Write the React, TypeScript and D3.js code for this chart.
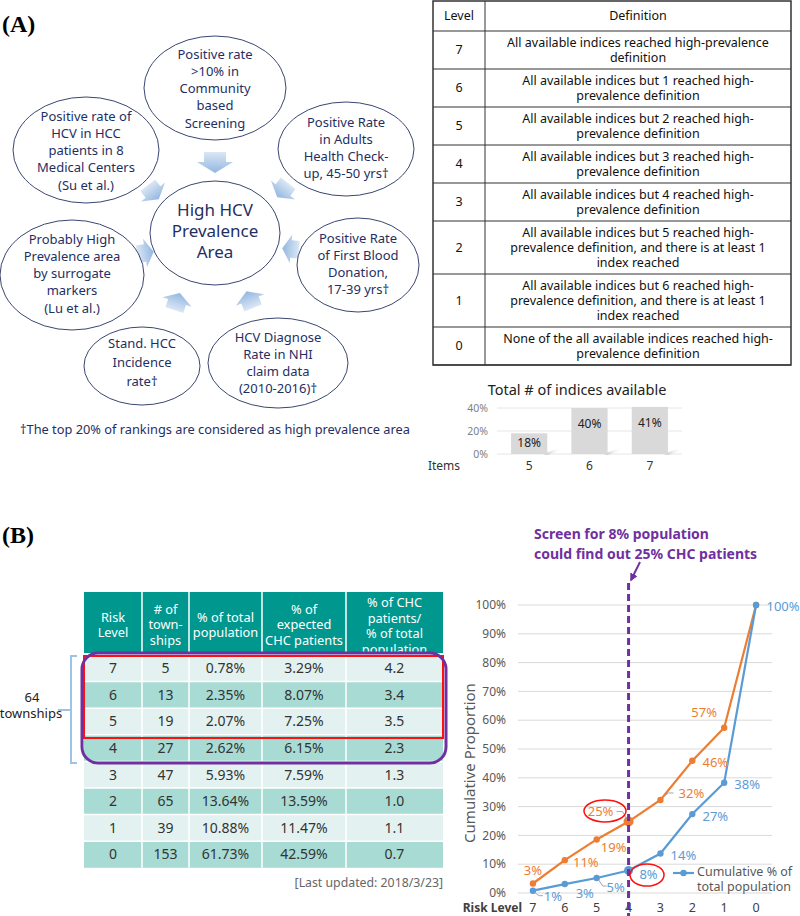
import React from 'react';
import * as d3 from 'd3';

// ---------- Panel A data ----------
const centerLines = ["High HCV", "Prevalence", "Area"];
const indexBubbles = [
  ["Positive rate", ">10% in", "Community", "based", "Screening"],
  ["Positive Rate", "in Adults", "Health Check-", "up, 45-50 yrs†"],
  ["Positive Rate", "of First Blood", "Donation,", "17-39 yrs†"],
  ["HCV Diagnose", "Rate in NHI", "claim data", "(2010-2016)†"],
  ["Stand. HCC", "Incidence", "rate†"],
  ["Probably High", "Prevalence area", "by surrogate", "markers", "(Lu et al.)"],
  ["Positive rate of", "HCV in HCC", "patients in 8", "Medical Centers", "(Su et al.)"],
];
const footnoteA = "†The top 20% of rankings are considered as high prevalence area";

const levelsA = ["7", "6", "5", "4", "3", "2", "1", "0"];
const definitionsA = [
  ["All available indices reached high-prevalence", "definition"],
  ["All available indices but 1 reached high-", "prevalence definition"],
  ["All available indices but 2 reached high-", "prevalence definition"],
  ["All available indices but 3 reached high-", "prevalence definition"],
  ["All available indices but 4 reached high-", "prevalence definition"],
  ["All available indices but 5 reached high-", "prevalence definition, and there is at least 1", "index reached"],
  ["All available indices but 6 reached high-", "prevalence definition, and there is at least 1", "index reached"],
  ["None of the all available indices reached high-", "prevalence definition"],
];

const indexItems = ["5", "6", "7"];
const indexShares = [18, 40, 41];
const indexTicks = [0, 20, 40];

// ---------- Panel B data ----------
const riskLevels = ["7", "6", "5", "4", "3", "2", "1", "0"];
const townships = ["5", "13", "19", "27", "47", "65", "39", "153"];
const popPct = ["0.78%", "2.35%", "2.07%", "2.62%", "5.93%", "13.64%", "10.88%", "61.73%"];
const chcPct = ["3.29%", "8.07%", "7.25%", "6.15%", "7.59%", "13.59%", "11.47%", "42.59%"];
const ratioPct = ["4.2", "3.4", "3.5", "2.3", "1.3", "1.0", "1.1", "0.7"];
const headersB = [
  ["Risk", "Level"],
  ["# of", "town-", "ships"],
  ["% of total", "population"],
  ["% of", "expected", "CHC patients"],
  ["% of CHC", "patients/", "% of total", "population"],
];

const cumChc = [3.3, 11.4, 18.6, 24.8, 32.3, 45.9, 57.4, 100];
const cumPop = [0.8, 3.1, 5.2, 7.8, 13.7, 27.4, 38.3, 100];
const cumChcLabels = ["3%", "11%", "19%", "25%", "32%", "46%", "57%", ""];
const cumPopLabels = ["1%", "3%", "5%", "8%", "14%", "27%", "38%", "100%"];
const yTicksB = [0, 10, 20, 30, 40, 50, 60, 70, 80, 90, 100];

// ---------- styling ----------
const NAVY = "#1f2f63";
const ORANGE = "#ed7d31";
const BLUE = "#5b9bd5";
const PURPLE = "#7030a0";
const SANS = "'Noto Sans', 'Open Sans', sans-serif";

const bubbleGeom = [
  { cx: 215, cy: 88, rx: 71, ry: 52, y0: 54 },
  { cx: 346, cy: 149, rx: 68, ry: 47, y0: 122 },
  { cx: 358, cy: 265, rx: 61, ry: 47, y0: 238 },
  { cx: 278, cy: 363, rx: 70, ry: 45, y0: 337 },
  { cx: 142, cy: 366, rx: 58, ry: 39, y0: 343, lh: 19 },
  { cx: 72, cy: 275, rx: 72, ry: 55, y0: 239 },
  { cx: 86, cy: 150, rx: 73, ry: 53, y0: 116 },
];
const arrowGeom = [
  { x: 215, y: 162, a: 90, s: 1 },
  { x: 283, y: 190, a: 128, s: 0.85 },
  { x: 291, y: 249, a: 185, s: 0.8 },
  { x: 250, y: 300, a: -112, s: 0.85 },
  { x: 177, y: 302, a: -72, s: 0.85 },
  { x: 145, y: 253, a: -8, s: 0.8 },
  { x: 153, y: 192, a: 52, s: 0.85 },
];

function BlockArrow({ x, y, a, s }: { x: number; y: number; a: number; s: number }) {
  const p = "M-10,-11 L0,-11 L0,-18 L11,0 L0,18 L0,11 L-10,11 Z";
  return (
    <path d={p} transform={`translate(${x},${y}) rotate(${a}) scale(${s})`} fill="url(#arrowGrad)" />
  );
}

function PanelA() {
  const tx0 = 433, tx1 = 791, tcol = 485, ty0 = 1;
  const headerH = 30;
  const rowHs = definitionsA.map((d) => (d.length === 3 ? 53 : 38));
  const rowYs: number[] = [];
  let acc = ty0 + headerH;
  rowHs.forEach((h) => { rowYs.push(acc); acc += h; });
  const ty1 = acc;
  const defCx = (tcol + tx1) / 2;

  const xb = d3.scaleBand<string>().domain(indexItems).range([499, 680]).paddingInner(0.4).paddingOuter(0.2);
  const yb = d3.scaleLinear().domain([0, 40]).range([454, 408]);

  return (
    <g>
      <text x={2} y={32} fontFamily="'Liberation Serif', 'Times New Roman', serif" fontWeight="bold" fontSize={24}>(A)</text>
      <defs>
        <linearGradient id="arrowGrad" x1="0" y1="0" x2="1" y2="0">
          <stop offset="0" stopColor="#dbe7f5" />
          <stop offset="1" stopColor="#93b6e0" />
        </linearGradient>
        <linearGradient id="shadowGrad" x1="0" y1="0" x2="1" y2="0">
          <stop offset="0" stopColor="#b8b8b8" />
          <stop offset="1" stopColor="#ffffff" stopOpacity="0" />
        </linearGradient>
      </defs>
      {arrowGeom.map((g, i) => <BlockArrow key={i} {...g} />)}
      {bubbleGeom.map((g, i) => (
        <g key={i}>
          <ellipse cx={g.cx} cy={g.cy} rx={g.rx} ry={g.ry} fill="white" stroke="#3a4670" strokeWidth={1} />
          {indexBubbles[i].map((t, j) => (
            <text key={j} x={g.cx} y={g.y0 + j * (g.lh || 17.3)} dy="0.35em" textAnchor="middle" fontFamily={SANS} fontSize={13} fill={NAVY}>{t}</text>
          ))}
        </g>
      ))}
      <ellipse cx={215} cy={233} rx={65} ry={52} fill="white" stroke="#3a4670" strokeWidth={1} />
      {centerLines.map((t, j) => (
        <text key={j} x={215} y={210 + j * 21} dy="0.35em" textAnchor="middle" fontFamily={SANS} fontSize={17} fill={NAVY}>{t}</text>
      ))}
      <text x={20} y={430} dy="0.35em" fontFamily={SANS} fontSize={12.8} fill={NAVY}>{footnoteA}</text>

      {/* Table A */}
      <rect x={tx0} y={ty0} width={tx1 - tx0} height={ty1 - ty0} fill="white" stroke="#333" strokeWidth={1.5} />
      <line x1={tcol} x2={tcol} y1={ty0} y2={ty1} stroke="#333" strokeWidth={1} />
      <line x1={tx0} x2={tx1} y1={ty0 + headerH} y2={ty0 + headerH} stroke="#333" strokeWidth={1} />
      <text x={(tx0 + tcol) / 2} y={ty0 + headerH / 2} dy="0.35em" textAnchor="middle" fontFamily={SANS} fontSize={12.5} fill="#111">Level</text>
      <text x={defCx} y={ty0 + headerH / 2} dy="0.35em" textAnchor="middle" fontFamily={SANS} fontSize={12.5} fill="#111">Definition</text>
      {levelsA.map((lv, i) => {
        const y = rowYs[i], h = rowHs[i];
        const lines = definitionsA[i];
        const mid = y + h / 2;
        return (
          <g key={lv}>
            <line x1={tx0} x2={tx1} y1={y + h} y2={y + h} stroke="#333" strokeWidth={1} />
            <text x={(tx0 + tcol) / 2} y={mid} dy="0.35em" textAnchor="middle" fontFamily={SANS} fontSize={12.5} fill="#111">{lv}</text>
            {lines.map((t, j) => (
              <text key={j} x={defCx} y={mid + (j - (lines.length - 1) / 2) * 15.2} dy="0.35em" textAnchor="middle" fontFamily={SANS} fontSize={12.5} fill="#111">{t}</text>
            ))}
          </g>
        );
      })}

      {/* mini bar chart */}
      <text x={577} y={390} dy="0.35em" textAnchor="middle" fontFamily={SANS} fontSize={14.5} fill="#222">Total # of indices available</text>
      {indexTicks.map((t) => (
        <g key={t}>
          <line x1={497} x2={682} y1={yb(t)} y2={yb(t)} stroke="#e6e6e6" strokeWidth={1} />
          <text x={488} y={yb(t)} dy="0.35em" textAnchor="end" fontFamily={SANS} fontSize={10.5} fill="#7f7f7f">{t}%</text>
        </g>
      ))}
      {indexItems.map((it, i) => {
        const x = xb(it)!, w = xb.bandwidth();
        return (
          <g key={it}>
            <polygon points={`${x + w - 4},${yb(0)} ${x + w + 14},${yb(0) - 7} ${x + w + 14},${yb(0) - 3} ${x + w},${yb(0) + 1}`} fill="url(#shadowGrad)" />
            <rect x={x} y={yb(indexShares[i])} width={w} height={yb(0) - yb(indexShares[i])} fill="#d9d9d9" />
            <text x={x + w / 2} y={yb(indexShares[i]) + (indexShares[i] > 30 ? 16 : 9)} dy="0.35em" textAnchor="middle" fontFamily={SANS} fontSize={12} fill="#222">{indexShares[i]}%</text>
            <text x={x + w / 2} y={466} dy="0.35em" textAnchor="middle" fontFamily={SANS} fontSize={12} fill="#333">{it}</text>
          </g>
        );
      })}
      <text x={444} y={466} dy="0.35em" textAnchor="middle" fontFamily={SANS} fontSize={12} fill="#333">Items</text>
    </g>
  );
}

function PanelB() {
  const colX = [84, 142, 189, 262, 346, 443];
  const headTop = 592, headBot = 653;
  const rowH = 26.6;
  const rowTop = 655;
  const cols = [riskLevels, townships, popPct, chcPct, ratioPct];

  const x = d3.scalePoint<string>().domain(riskLevels).range([517, 772]).padding(0.5);
  const y = d3.scaleLinear().domain([0, 100]).range([893, 605]);
  const line = d3.line<number>().x((_, i) => x(riskLevels[i])!).y((d) => y(d));

  const chcOff = [[0, -13], [21, 2], [17, 8], [-28, -10], [31, -7], [23, 2], [-20, -15], [0, 0]];
  const popOff = [[20, 6], [20, 9], [19, 9], [20, 4], [23, 2], [23, 2], [23, 2], [27, 1]];

  return (
    <g>
      <text x={2} y={543} fontFamily="'Liberation Serif', 'Times New Roman', serif" fontWeight="bold" fontSize={24}>(B)</text>

      <defs>
        <clipPath id="headClip"><rect x={84} y={headTop} width={359} height={headBot - headTop} /></clipPath>
      </defs>
      <rect x={84} y={headTop} width={359} height={headBot - headTop} fill="#00978f" />
      <g clipPath="url(#headClip)">
        {headersB.map((h, c) => {
          const cx = (colX[c] + colX[c + 1]) / 2;
          const mid = (c === 4) ? 626 : 625;
          return h.map((t, j) => (
            <text key={c + "-" + j} x={cx} y={mid + (j - (h.length - 1) / 2) * 15.5} dy="0.35em" textAnchor="middle" fontFamily={SANS} fontSize={12.8} fill="white">{t}</text>
          ));
        })}
      </g>
      {riskLevels.map((lv, r) => {
        const ry = rowTop + r * rowH;
        return (
          <g key={lv}>
            <rect x={84} y={ry} width={359} height={rowH} fill={r % 2 === 0 ? "#e3f2f0" : "#a8dbd4"} />
            {cols.map((col, c) => (
              <text key={c} x={(colX[c] + colX[c + 1]) / 2} y={ry + rowH / 2} dy="0.35em" textAnchor="middle" fontFamily={SANS} fontSize={14} fill="#333">{col[r]}</text>
            ))}
            <line x1={84} x2={443} y1={ry} y2={ry} stroke="white" strokeWidth={1.5} />
          </g>
        );
      })}
      {colX.slice(1, 5).map((cx) => (
        <line key={cx} x1={cx} x2={cx} y1={headTop} y2={rowTop + 8 * rowH} stroke="white" strokeWidth={1.5} />
      ))}
      <rect x={84} y={656} width={359} height={82} fill="none" stroke="#ff1010" strokeWidth={2} />
      <rect x={82} y={653} width={364} height={110} rx={16} fill="none" stroke={PURPLE} strokeWidth={3} />
      <path d="M77,656 H71 V763 H77 M71,710 H58" fill="none" stroke="#9dc3e6" strokeWidth={2} />
      <text x={32} y={697} dy="0.35em" textAnchor="middle" fontFamily={SANS} fontSize={13} fill="#222">64</text>
      <text x={31} y={713} dy="0.35em" textAnchor="middle" fontFamily={SANS} fontSize={13} fill="#222">townships</text>
      <text x={443} y={883} dy="0.35em" textAnchor="end" fontFamily={SANS} fontSize={12.3} fill="#666">[Last updated: 2018/3/23]</text>

      {yTicksB.map((t) => (
        <g key={t}>
          <line x1={518} x2={772} y1={y(t)} y2={y(t)} stroke="#d9d9d9" strokeWidth={1} />
          <text x={506} y={y(t)} dy="0.35em" textAnchor="end" fontFamily={SANS} fontSize={12} fill="#595959">{t}%</text>
        </g>
      ))}
      <text transform="translate(470,763) rotate(-90)" dy="0.35em" textAnchor="middle" fontFamily={SANS} fontSize={15} fill="#595959">Cumulative Proportion</text>
      <text x={522} y={908} dy="0.35em" textAnchor="end" fontFamily={SANS} fontSize={12} fontWeight="bold" fill="#404040">Risk Level</text>
      {riskLevels.map((lv) => (
        <text key={lv} x={x(lv)} y={908} dy="0.35em" textAnchor="middle" fontFamily={SANS} fontSize={12.5} fill="#404040">{lv}</text>
      ))}

      <path d={line(cumChc) || ""} fill="none" stroke={ORANGE} strokeWidth={2.2} />
      <path d={line(cumPop) || ""} fill="none" stroke={BLUE} strokeWidth={2.2} />
      {cumChc.map((v, i) => (
        <circle key={"c" + i} cx={x(riskLevels[i])} cy={y(v)} r={i === 3 ? 5 : 3.2} fill={ORANGE} />
      ))}
      {cumPop.map((v, i) => (
        <circle key={"p" + i} cx={x(riskLevels[i])} cy={y(v)} r={i === 3 ? 4.5 : 3.2} fill={BLUE} />
      ))}

      <path d={`M${x("7")! + 2},${y(cumPop[0]) + 2} L${x("7")! + 6},${y(cumPop[0]) + 5} H${x("7")! + 10}`} fill="none" stroke="#a6a6a6" strokeWidth={1} />
      <path d={`M${x("5")! + 2},${y(cumPop[2]) + 2} L${x("5")! + 6},${y(cumPop[2]) + 8} H${x("5")! + 10}`} fill="none" stroke="#a6a6a6" strokeWidth={1} />
      <path d={`M${x("4")! - 2},${y(cumChc[3]) - 3} L${x("4")! - 6},${y(cumChc[3]) - 10} H${x("4")! - 12}`} fill="none" stroke="#a6a6a6" strokeWidth={1} />
      <path d={`M${x("3")! + 3},${y(cumChc[4]) - 3} L${x("3")! + 8},${y(cumChc[4]) - 7} H${x("3")! + 13}`} fill="none" stroke="#a6a6a6" strokeWidth={1} />

      {cumChcLabels.map((t, i) => t && (
        <text key={"cl" + i} x={x(riskLevels[i])! + chcOff[i][0]} y={y(cumChc[i]) + chcOff[i][1]} dy="0.35em" textAnchor="middle" fontFamily={SANS} fontSize={13} fill={ORANGE}>{t}</text>
      ))}
      {cumPopLabels.map((t, i) => (
        <text key={"pl" + i} x={x(riskLevels[i])! + popOff[i][0]} y={y(cumPop[i]) + popOff[i][1]} dy="0.35em" textAnchor="middle" fontFamily={SANS} fontSize={13} fill={BLUE}>{t}</text>
      ))}
      <ellipse cx={605} cy={811} rx={21} ry={11} fill="none" stroke="#ff1010" strokeWidth={1.5} />
      <ellipse cx={647} cy={875} rx={17} ry={11} fill="none" stroke="#ff1010" strokeWidth={1.5} />

      <line x1={673} x2={694} y1={873} y2={873} stroke={BLUE} strokeWidth={2.2} />
      <circle cx={683.5} cy={873} r={3.2} fill={BLUE} />
      <text x={697} y={872} dy="0.35em" fontFamily={SANS} fontSize={12.5} fill="#595959">Cumulative % of</text>
      <text x={697} y={887} dy="0.35em" fontFamily={SANS} fontSize={12.5} fill="#595959">total population</text>

      <line x1={x("4")} x2={x("4")} y1={583} y2={916} stroke={PURPLE} strokeWidth={3} strokeDasharray="7,4" />
      <defs>
        <marker id="purpleHead" viewBox="0 0 10 10" refX="8" refY="5" markerWidth="4" markerHeight="4" orient="auto">
          <path d="M0,0 L10,5 L0,10 Z" fill={PURPLE} />
        </marker>
      </defs>
      <line x1={640} y1={562} x2={631} y2={580} stroke={PURPLE} strokeWidth={2} markerEnd="url(#purpleHead)" />
      <text x={534} y={534} dy="0.35em" fontFamily={SANS} fontSize={14} fontWeight="bold" fill={PURPLE}>Screen for 8% population</text>
      <text x={534} y={554} dy="0.35em" fontFamily={SANS} fontSize={14} fontWeight="bold" fill={PURPLE}>could find out 25% CHC patients</text>
    </g>
  );
}

export default function App() {
  return (
    <svg width={800} height={916} viewBox="0 0 800 916" style={{ position: 'absolute', left: 0, top: 0, background: 'white' }}>
      <rect x={0} y={0} width={800} height={916} fill="white" />
      <PanelA />
      <PanelB />
    </svg>
  );
}
